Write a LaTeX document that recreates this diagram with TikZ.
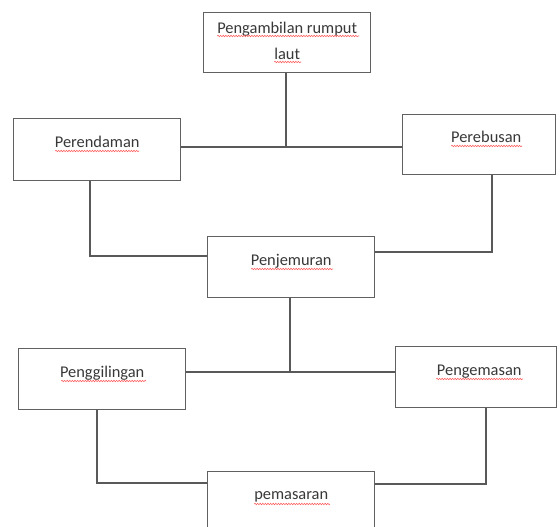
\documentclass[tikz,border=0pt]{standalone}
\usepackage{fontspec}
\setmainfont{Carlito}
\usetikzlibrary{calc,decorations.pathmorphing}
\tikzset{
  box/.style={draw=black!62, line width=1.4pt, inner sep=0pt, fill=white, anchor=north west, text=black!78},
  conn/.style={draw=black!65, line width=1.2pt},
  squig/.style={draw=red!65, line width=0.55pt, decorate, decoration={snake, amplitude=0.7pt, segment length=2.6pt}},
}
\newcommand\boxtext[4]{\parbox[c][#2pt][t]{#1pt}{\centering\vspace*{#3pt}\vphantom{Ab}#4}}
\begin{document}
\begin{tikzpicture}[x=1pt,y=-1pt,font=\fontsize{16.4pt}{26pt}\selectfont]
\useasboundingbox (0,0) rectangle (560,527);
\clip (0,0) rectangle (560,527);
\fill[white] (0,0) rectangle (560,527);
% boxes
\node[box] (top) at (203,12) {\boxtext{167}{60}{9.5}{Pengambilan rumput\\laut}};
\node[box] (pr) at (13,118) {\boxtext{167}{62}{17.5}{Perendaman}};
\node[box] (pb) at (402,114) {\boxtext{153}{60}{16.5}{\hspace*{14pt}Perebusan}};
\node[box] (pj) at (207,236) {\boxtext{167}{61}{17}{Penjemuran}};
\node[box] (pg) at (18,348) {\boxtext{167}{61}{17}{Penggilingan}};
\node[box] (pk) at (395,346) {\boxtext{161}{61}{17}{\hspace*{6pt}Pengemasan}};
\node[box] (pm) at (207,471) {\boxtext{167}{61}{16}{pemasaran}};
% junction points
\coordinate (j1) at (286,147);
\coordinate (a1) at (90,256);
\coordinate (a2) at (492,252);
\coordinate (j2) at (290,372);
\coordinate (a3) at (97,483);
\coordinate (a4) at (486,484);
% connectors
\draw[conn] (top.south -| j1) -- (j1);
\draw[conn] (pr.east |- j1) -- (pb.west |- j1);
\draw[conn] (pr.south -| a1) -- (a1) -- (pj.west |- a1);
\draw[conn] (pb.south -| a2) -- (a2) -- (pj.east |- a2);
\draw[conn] (pj.south -| j2) -- (j2);
\draw[conn] (pg.east |- j2) -- (pk.west |- j2);
\draw[conn] (pg.south -| a3) -- (a3) -- (pm.west |- a3);
\draw[conn] (pk.south -| a4) -- (a4) -- (pm.east |- a4);
% spell-check squiggles
\draw[squig] ($(top.north)+(-70,24)$) -- ++(142,0);
\draw[squig] ($(top.north)+(-13,50)$) -- ++(27,0);
\draw[squig] ($(pr.north)+(-42,33)$) -- ++(84,0);
\draw[squig] ($(pb.north)+(-28,32)$) -- ++(71,0);
\draw[squig] ($(pj.north)+(-40,33)$) -- ++(82,0);
\draw[squig] ($(pg.north)+(-41,33)$) -- ++(85,0);
\draw[squig] ($(pk.north)+(-40,33)$) -- ++(87,0);
\draw[squig] ($(pm.north)+(-37,33)$) -- ++(76,0);
\end{tikzpicture}
\end{document}
